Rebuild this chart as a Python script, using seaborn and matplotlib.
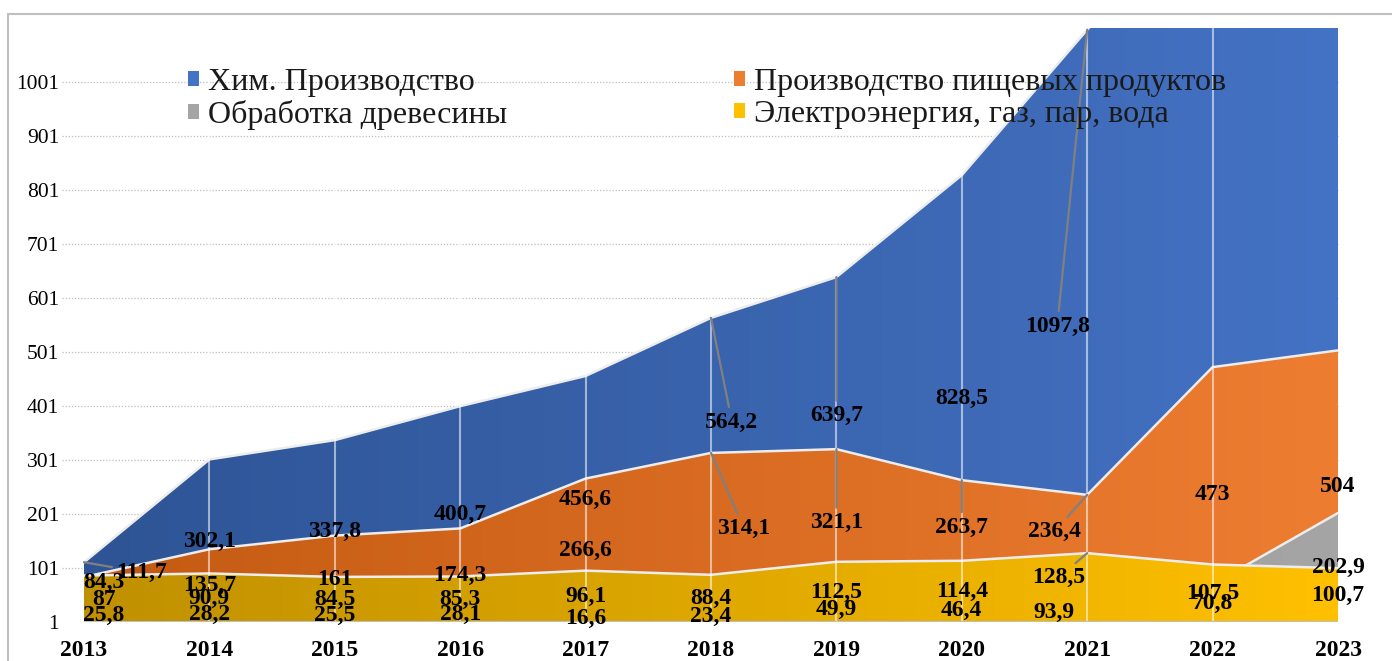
import numpy as np
import pandas as pd
import seaborn as sns
import matplotlib.pyplot as plt
from matplotlib.colors import LinearSegmentedColormap
from matplotlib.patches import Patch, Rectangle
from matplotlib.transforms import offset_copy

# data
years = [2013, 2014, 2015, 2016, 2017, 2018, 2019, 2020, 2021, 2022, 2023]
chem = [111.7, 302.1, 337.8, 400.7, 456.6, 564.2, 639.7, 828.5, 1097.8, 1350.0, 1400.0]  # 2022/23 off the chart
food = [84.3, 135.7, 161, 174.3, 266.6, 314.1, 321.1, 263.7, 236.4, 473, 504]
wood = [25.8, 28.2, 25.5, 28.1, 16.6, 23.4, 49.9, 46.4, 93.9, 70.8, 202.9]
power = [87, 90.9, 84.5, 85.3, 96.1, 88.4, 112.5, 114.4, 128.5, 107.5, 100.7]
labels = ["Хим. Производство", "Производство пищевых продуктов",
          "Обработка древесины", "Электроэнергия, газ, пар, вода"]
y_ticks = [1, 101, 201, 301, 401, 501, 601, 701, 801, 901, 1001]

df = pd.DataFrame({"year": years, "chem": chem, "food": food, "wood": wood, "power": power})

# drawing order back -> front, with left(dark) / right(light) gradient colours
series = [
    ("chem", labels[0], "#2E5495", "#4472C4"),
    ("food", labels[1], "#C45A12", "#ED7D31"),
    ("wood", labels[2], "#8C8C8C", "#A5A5A5"),
    ("power", labels[3], "#BF9000", "#FFC000"),
]

# label displacements in pixels (Excel moved some labels by hand)
moved = {
    ("chem", 2013): (58, 20), ("food", 2013): (20, 17), ("wood", 2013): (20, 0), ("power", 2013): (20, 0),
    ("chem", 2018): (21, 48), ("food", 2018): (33, 9),
    ("chem", 2019): (0, 34), ("food", 2019): (0, 13),
    ("food", 2020): (0, 24),
    ("chem", 2021): (-30, 0), ("food", 2021): (-33, 27), ("power", 2021): (-29, 10), ("wood", 2021): (-33, -15),
}
leaders = [("chem", 2013), ("chem", 2018), ("food", 2018), ("chem", 2019), ("food", 2019),
           ("food", 2020), ("chem", 2021), ("food", 2021), ("power", 2021)]

sns.set_style("white")
plt.rcParams["font.family"] = ["Liberation Serif", "DejaVu Serif"]

W, H = 1392, 661
fig = plt.figure(figsize=(W / 100, H / 100), dpi=100)
ax = fig.add_axes([84 / W, 1 - 622 / H, (1338 - 84) / W, (622 - 28) / H])
YMAX = 1101

# dotted horizontal grid
for t in y_ticks[1:]:
    ax.axhline(t, xmin=-22 / 1254, xmax=1, color="#BFBFBF", ls=(0, (1, 1.5)), lw=0.9,
               zorder=0, clip_on=False)

grad = np.linspace(0, 1, 256).reshape(1, -1)
for i, (col, name, c0, c1) in enumerate(series):
    z = 2 + i * 2
    poly = ax.fill_between(df["year"], 0, df[col], color="none", lw=0)
    path = poly.get_paths()[0]
    poly.remove()
    cmap = LinearSegmentedColormap.from_list(col, [c0, c1])
    im = ax.imshow(grad, extent=[years[0], years[-1], 0, YMAX], aspect="auto",
                   cmap=cmap, zorder=z, interpolation="bilinear")
    im.set_clip_path(path, ax.transData)
    sns.lineplot(data=df, x="year", y=col, ax=ax, color="#EDEDED", lw=1.8, zorder=z + 0.5)

# white vertical lines at each year
for yr in years[1:-1]:
    ax.axvline(yr, color="white", lw=1.5, alpha=0.55, zorder=11)

ax.axhline(1, color="#BFBFBF", lw=1.5, zorder=12)

# data labels, at half the value like Excel area labels
LBL = 17
for col, name, c0, c1 in series:
    for yr, v in zip(years, df[col]):
        if v > YMAX:
            continue
        dx, dy = moved.get((col, yr), (0, 0))
        txt = f"{v:g}".replace(".", ",")
        tr = offset_copy(ax.transData, fig=fig, x=dx, y=dy, units="dots")
        if (col, yr) in leaders:
            ax.annotate(txt, xy=(yr, v), xycoords="data", xytext=(yr, v / 2), textcoords=tr,
                        ha="center", va="center", fontsize=LBL, fontweight="bold", zorder=20,
                        color="black",
                        arrowprops=dict(arrowstyle="-", color="#808080", lw=1.6,
                                        shrinkA=1, shrinkB=0))
        else:
            ax.text(yr, v / 2, txt, transform=tr, ha="center", va="center",
                    fontsize=LBL, fontweight="bold", zorder=20, color="black")

ax.set_xlim(years[0], years[-1])
ax.set_ylim(1, YMAX)
ax.set_xticks(years)
ax.set_xticklabels([str(y) for y in years], fontsize=17, fontweight="bold", color="black")
ax.set_yticks(y_ticks)
ax.set_yticklabels([str(t) for t in y_ticks], fontsize=15.5, color="black")
ax.tick_params(axis="y", length=0, pad=18)
ax.tick_params(axis="x", length=0, pad=13)
ax.set_xlabel("")
ax.set_ylabel("")
for s in ax.spines.values():
    s.set_visible(False)

handles = [Patch(facecolor=series[k][3], edgecolor="none") for k in (0, 2, 1, 3)]
names = [series[k][1] for k in (0, 2, 1, 3)]
leg = fig.legend(handles, names, loc="upper left", bbox_to_anchor=(188 / W, 1 - 68 / H),
                 ncol=2, frameon=False, fontsize=23, handlelength=0.33, handleheight=0.33,
                 handletextpad=0.3, labelspacing=0.1, columnspacing=7.1, borderpad=0,
                 borderaxespad=0, labelcolor="#1a1a1a")
leg.set_zorder(30)

# chart area border
fig.patches.append(Rectangle((8 / W, -0.1), 1.2, 1.1 - 14 / H, transform=fig.transFigure,
                             fill=False, edgecolor="#BFBFBF", lw=1.5))

fig.savefig("out.png", dpi=100)
